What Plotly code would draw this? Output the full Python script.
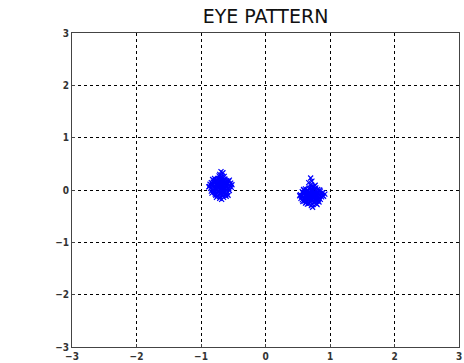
import plotly.graph_objects as go

# Cluster 1 (left symbol)
x1 = [-0.70, -0.62, -0.78, -0.66, -0.74, -0.58, -0.82, -0.69, -0.71, -0.64,
      -0.76, -0.55, -0.85, -0.67, -0.73, -0.61, -0.79, -0.70, -0.68, -0.56,
      -0.84, -0.63, -0.77, -0.72, -0.65, -0.75, -0.60, -0.80, -0.69, -0.71,
      -0.53, -0.87, -0.66, -0.74, -0.59, -0.81, -0.62, -0.78, -0.70, -0.68,
      -0.57, -0.83, -0.64, -0.76, -0.72, -0.66, -0.74, -0.61, -0.79, -0.69,
      -0.58, -0.82, -0.67, -0.73, -0.63, -0.77, -0.54, -0.86, -0.70, -0.71,
      -0.65, -0.75, -0.60, -0.80, -0.68, -0.72, -0.56, -0.84, -0.62, -0.78,
      -0.69, -0.71, -0.66, -0.59, -0.81, -0.64, -0.76, -0.70, -0.67, -0.73,
      -0.52, -0.88, -0.61, -0.79, -0.65, -0.75, -0.63, -0.77, -0.69, -0.71,
      -0.57, -0.83, -0.66, -0.74, -0.60, -0.80, -0.68, -0.72, -0.62, -0.78]
y1 = [0.06, 0.08, 0.04, 0.14, -0.02, 0.02, 0.10, 0.20, -0.08, -0.04,
      0.16, 0.09, 0.03, 0.00, 0.12, 0.15, -0.05, -0.13, 0.25, -0.01,
      0.14, 0.21, -0.10, 0.07, 0.05, 0.09, -0.07, 0.18, 0.11, 0.01,
      0.05, 0.07, -0.11, 0.22, 0.12, -0.01, -0.09, 0.13, 0.16, -0.03,
      0.17, -0.06, 0.26, -0.14, 0.03, 0.09, 0.05, 0.00, 0.08, -0.06,
      -0.10, 0.20, 0.18, -0.04, 0.11, 0.02, 0.13, 0.11, 0.24, -0.16,
      -0.14, 0.19, 0.07, 0.05, 0.08, 0.10, 0.19, -0.02, 0.03, -0.08,
      0.35, 0.30, 0.33, -0.04, 0.15, 0.17, 0.00, 0.12, -0.08, 0.17,
      0.10, 0.06, -0.12, 0.22, 0.01, -0.06, 0.07, 0.11, 0.02, 0.14,
      0.03, 0.09, 0.23, -0.11, 0.18, -0.03, -0.18, 0.27, 0.13, 0.01]

# Cluster 2 (right symbol)
x2 = [0.71, 0.79, 0.63, 0.75, 0.67, 0.83, 0.59, 0.72, 0.70, 0.77,
      0.65, 0.86, 0.56, 0.74, 0.68, 0.80, 0.62, 0.71, 0.73, 0.85,
      0.57, 0.78, 0.64, 0.69, 0.76, 0.66, 0.81, 0.61, 0.72, 0.70,
      0.88, 0.54, 0.75, 0.67, 0.82, 0.60, 0.79, 0.63, 0.71, 0.73,
      0.84, 0.58, 0.77, 0.65, 0.69, 0.75, 0.67, 0.80, 0.62, 0.72,
      0.83, 0.59, 0.74, 0.68, 0.78, 0.64, 0.87, 0.55, 0.71, 0.70,
      0.76, 0.66, 0.81, 0.61, 0.73, 0.69, 0.85, 0.57, 0.79, 0.63,
      0.70, 0.72, 0.67, 0.92, 0.90, 0.82, 0.60, 0.77, 0.65, 0.74,
      0.53, 0.89, 0.80, 0.62, 0.76, 0.66, 0.78, 0.64, 0.72, 0.70,
      0.84, 0.58, 0.75, 0.67, 0.81, 0.61, 0.73, 0.69, 0.79, 0.63]
y2 = [-0.11, -0.09, -0.13, -0.03, -0.19, -0.15, -0.07, 0.01, -0.23, -0.17,
      -0.01, -0.06, -0.12, -0.11, -0.05, -0.21, -0.25, 0.06, -0.28, -0.02,
      -0.03, 0.04, -0.20, -0.08, -0.14, -0.12, -0.04, -0.17, -0.02, -0.16,
      -0.10, -0.09, -0.24, 0.03, -0.19, -0.01, -0.26, -0.06, -0.20, -0.07,
      0.00, -0.22, 0.09, -0.27, -0.13, -0.10, -0.15, -0.12, -0.03, -0.18,
      -0.23, 0.01, 0.05, -0.22, -0.06, -0.16, -0.13, -0.16, -0.30, 0.10,
      0.02, -0.08, -0.17, -0.11, -0.15, -0.04, -0.18, -0.19, -0.01, -0.24,
      0.23, 0.17, 0.14, -0.08, -0.12, -0.08, -0.14, -0.20, -0.04, -0.01,
      -0.11, -0.05, -0.28, 0.02, -0.08, -0.18, -0.13, -0.09, -0.06, -0.12,
      -0.11, -0.05, 0.07, -0.26, 0.01, -0.21, -0.33, 0.04, -0.16, -0.02]

tick_vals = [-3, -2, -1, 0, 1, 2, 3]
tick_text = ["\u22123", "\u22122", "\u22121", "0", "1", "2", "3"]
title_text = "EYE PATTERN"

fig = go.Figure()
for xs, ys in [(x1, y1), (x2, y2)]:
    fig.add_trace(go.Scatter(
        x=xs, y=ys, mode="markers",
        marker=dict(symbol="x-thin", size=5, color="#0000ff",
                    line=dict(color="#0000ff", width=1.2)),
        showlegend=False, hoverinfo="skip"))

font_ticks = dict(family="DejaVu Sans Condensed, Liberation Sans Narrow, sans-serif",
                  size=10, color="#333333", weight="bold")

axis_common = dict(
    range=[-3, 3], tickvals=tick_vals, ticktext=tick_text,
    showgrid=True, gridcolor="#000000", gridwidth=1, griddash="3px,3px",
    zeroline=False, showline=True, linecolor="#444444", linewidth=1,
    mirror=True, ticks="inside", ticklen=3, tickcolor="#444444",
    tickfont=font_ticks, automargin=False,
    fixedrange=True,
)

fig.update_layout(
    width=464, height=363,
    margin=dict(l=72, r=5, t=33, b=16, pad=0),
    paper_bgcolor="white", plot_bgcolor="white",
    title=dict(text=title_text, x=0.5, xref="paper", xanchor="center",
               y=1 - 16.5 / 363, yref="container", yanchor="middle",
               font=dict(family="DejaVu Sans, sans-serif", size=19, color="#111111")),
    xaxis=axis_common,
    yaxis=dict(axis_common),
)

fig.write_html(
    "out.html",
    config={"displayModeBar": False, "staticPlot": True},
    post_script="document.body.style.margin='0';document.body.style.overflow='hidden';",
)
